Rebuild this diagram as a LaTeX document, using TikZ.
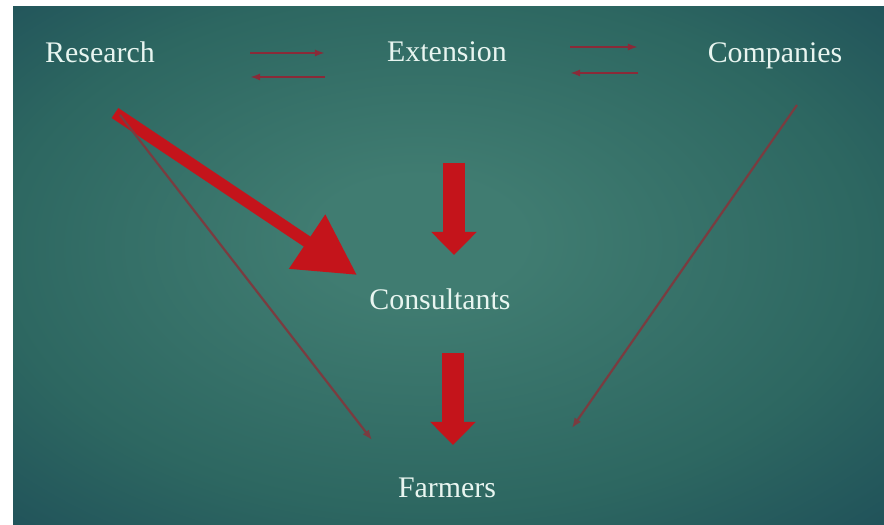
\documentclass[tikz,border=0pt]{standalone}
\usepackage{fontspec}
\setmainfont{Liberation Serif}
\usetikzlibrary{arrows.meta,calc}

\definecolor{bgin}{HTML}{407C71}
\definecolor{bgmid}{HTML}{2D6761}
\definecolor{bgout}{HTML}{21535A}
\definecolor{txtcol}{HTML}{E8F5F0}
\definecolor{thinred}{HTML}{8A2A38}
\definecolor{linkred}{HTML}{7A3C40}
\definecolor{bigred}{HTML}{C4141B}

\pgfdeclareradialshading{panelglow}{\pgfpoint{-2bp}{3bp}}{%
  color(0bp)=(bgin); color(6bp)=(bgin); color(25bp)=(bgmid); color(36bp)=(bgout); color(50bp)=(bgout)}

\begin{document}
\begin{tikzpicture}[
  x=0.01cm, y=-0.01cm,
  label/.style={text=txtcol, inner sep=0pt, anchor=base, font=\fontsize{8.5}{10}\selectfont},
  pairarrow/.style={-{Latex[length=0.1cm, width=0.07cm]}, draw=thinred, line width=0.025cm},
  linkarrow/.style={-{Latex[length=0.1cm, width=0.08cm]}, draw=linkred, line width=0.022cm},
  bigarrow/.style={-{Triangle[length=0.6cm, width=0.62cm]}, draw=bigred, line width=0.12cm},
  blockarrow/.style={-{Triangle[length=0.23cm, width=0.44cm]}, draw=bigred, line width=0.22cm}
]
\useasboundingbox (0,0) rectangle (884,525);
\fill[white] (0,0) rectangle (884,525);
\shade[shading=panelglow] (13,7) rectangle (884,525);

% actors
\node[label] (research)    at (100,63)  {Research};
\node[label] (extension)   at (447,62)  {Extension};
\node[label] (companies)   at (775,63)  {Companies};
\node[label] (consultants) at (440,310) {Consultants};
\node[label] (farmers)     at (447,498) {Farmers};

% two-way links at the top
\draw[pairarrow] ($(research.base)+(150,-10)$) -- ($(extension.base)+(-122,-9)$);
\draw[pairarrow] ($(extension.base)+(-122,15)$) -- ($(research.base)+(150,14)$);
\draw[pairarrow] ($(extension.base)+(123,-15)$) -- ($(companies.base)+(-137,-16)$);
\draw[pairarrow] ($(companies.base)+(-137,10)$) -- ($(extension.base)+(123,11)$);

% flows down
\draw[bigarrow] ($(research.base)+(15,50)$) -- ($(consultants.base)+(-83,-35)$);
\draw[linkarrow] ($(research.base)+(20,52)$) -- ($(farmers.base)+(-75,-58)$);
\draw[linkarrow] ($(companies.base)+(22,42)$) -- ($(farmers.base)+(125,-70)$);
\draw[blockarrow] ($(extension.base)+(7,101)$) -- ($(consultants.base)+(14,-55)$);
\draw[blockarrow] ($(consultants.base)+(13,43)$) -- ($(farmers.base)+(6,-53)$);
\end{tikzpicture}
\end{document}
